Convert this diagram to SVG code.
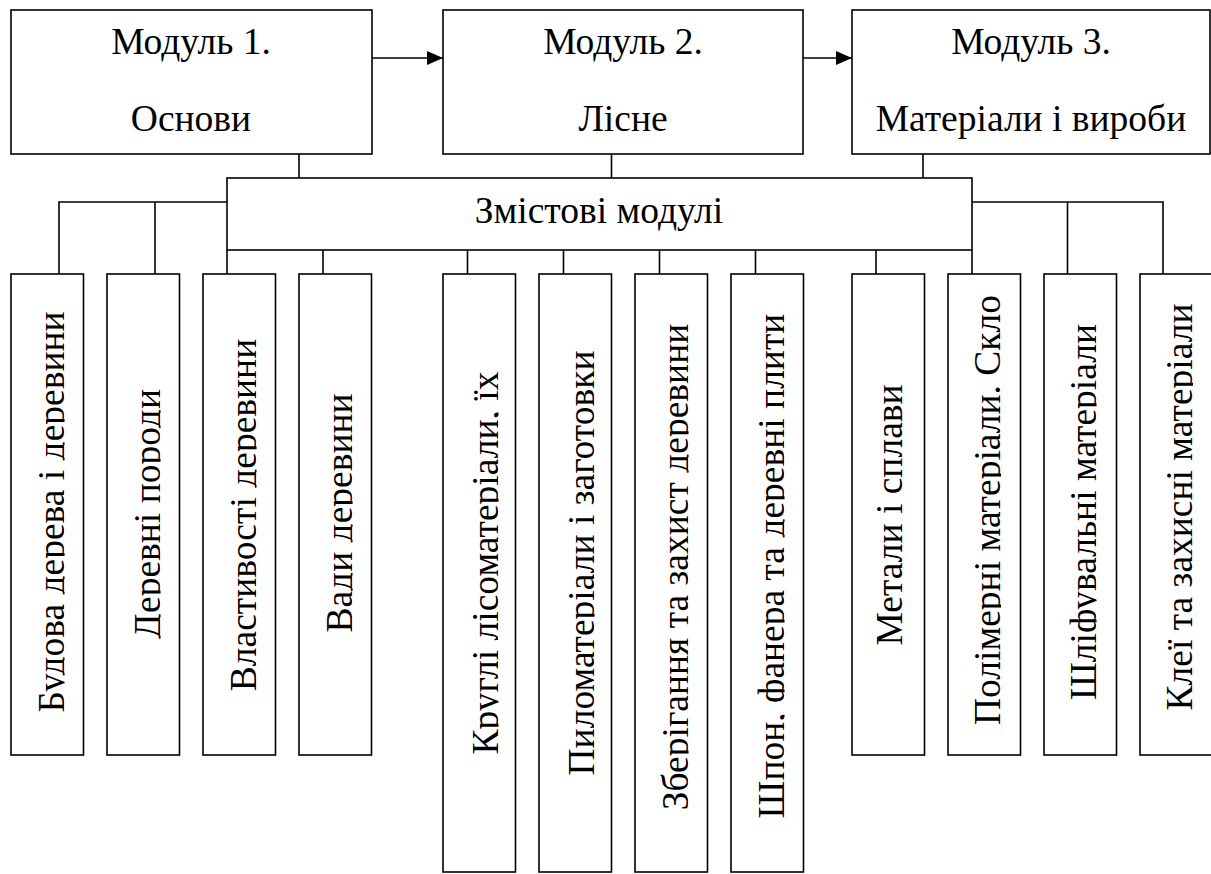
<svg xmlns="http://www.w3.org/2000/svg" width="1211" height="874" viewBox="0 0 1211 874">
  <style>
    .box { fill: #ffffff; stroke: #000000; stroke-width: 1.6; }
    .ln { fill: none; stroke: #000000; stroke-width: 1.6; }
    .t { font-family: "Liberation Serif", "Times New Roman", serif; font-size: 37.5px; fill: #000000; text-anchor: middle; }
    .v { font-family: "Liberation Serif", "Times New Roman", serif; font-size: 37.5px; fill: #000000; text-anchor: middle; }
  </style>
  <defs>
    <marker id="arr" markerUnits="userSpaceOnUse" viewBox="0 0 16 14" refX="16" refY="7" markerWidth="16" markerHeight="14" orient="auto">
      <path d="M0,0 L16,7 L0,14 z" fill="#000000"/>
    </marker>
    <clipPath id="desc" clipPathUnits="userSpaceOnUse">
      <rect x="-400" y="-45" width="800" height="46"/>
    </clipPath>
  </defs>

  <rect width="1211" height="874" fill="#ffffff"/>

  <g id="connectors">
    <line class="ln" x1="372" y1="58" x2="443" y2="58" marker-end="url(#arr)"/>
    <line class="ln" x1="803" y1="58" x2="852" y2="58" marker-end="url(#arr)"/>
    <line class="ln" x1="299" y1="154" x2="299" y2="178"/>
    <line class="ln" x1="611.5" y1="154" x2="611.5" y2="178"/>
    <line class="ln" x1="923" y1="154" x2="923" y2="178"/>
    <polyline class="ln" points="227,202 59,202 59,274"/>
    <line class="ln" x1="155" y1="202" x2="155" y2="274"/>
    <polyline class="ln" points="972,202 1163,202 1163,274"/>
    <line class="ln" x1="1067.5" y1="202" x2="1067.5" y2="274"/>
    <line class="ln" x1="227" y1="250" x2="227" y2="274"/>
    <line class="ln" x1="323" y1="250" x2="323" y2="274"/>
    <line class="ln" x1="467.5" y1="250" x2="467.5" y2="274"/>
    <line class="ln" x1="563.5" y1="250" x2="563.5" y2="274"/>
    <line class="ln" x1="659.5" y1="250" x2="659.5" y2="274"/>
    <line class="ln" x1="755.5" y1="250" x2="755.5" y2="274"/>
    <line class="ln" x1="876" y1="250" x2="876" y2="274"/>
    <line class="ln" x1="972" y1="250" x2="972" y2="274"/>
  </g>

  <g id="module1">
    <rect class="box" x="11" y="10" width="361" height="144"/>
    <text class="t" x="191" y="54">Модуль 1.</text>
    <text class="t" x="191" y="131">Основи</text>
  </g>
  <g id="module2">
    <rect class="box" x="443" y="10" width="360" height="144"/>
    <text class="t" x="623" y="54">Модуль 2.</text>
    <text class="t" x="623" y="131">Лісне</text>
  </g>
  <g id="module3">
    <rect class="box" x="852" y="10" width="358" height="144"/>
    <text class="t" x="1031" y="54">Модуль 3.</text>
    <text class="t" x="1031" y="131">Матеріали і вироби</text>
  </g>
  <g id="content-modules">
    <rect class="box" x="227" y="178" width="745" height="72"/>
    <text class="t" x="599" y="223">Змістові модулі</text>
  </g>

  <g id="m1-1">
    <rect class="box" x="11" y="274" width="72.5" height="481"/>
    <text class="v" transform="translate(63.5,512) rotate(-90)" clip-path="url(#desc)">Будова дерева і деревини</text>
  </g>
  <g id="m1-2">
    <rect class="box" x="107" y="274" width="72.5" height="481"/>
    <text class="v" transform="translate(159.5,514) rotate(-90)" clip-path="url(#desc)">Деревні породи</text>
  </g>
  <g id="m1-3">
    <rect class="box" x="203" y="274" width="72.5" height="481"/>
    <text class="v" transform="translate(255.5,515) rotate(-90)" clip-path="url(#desc)">Властивості деревини</text>
  </g>
  <g id="m1-4">
    <rect class="box" x="299" y="274" width="72.5" height="481"/>
    <text class="v" transform="translate(351.5,513) rotate(-90)" clip-path="url(#desc)">Вади деревини</text>
  </g>

  <g id="m2-1">
    <rect class="box" x="443" y="274" width="72.5" height="598"/>
    <text class="v" transform="translate(497.5,563) rotate(-90)" clip-path="url(#desc)">Круглі лісоматеріали, їх</text>
  </g>
  <g id="m2-2">
    <rect class="box" x="539" y="274" width="72.5" height="598"/>
    <text class="v" transform="translate(593.5,563) rotate(-90)" clip-path="url(#desc)">Пиломатеріали і заготовки</text>
  </g>
  <g id="m2-3">
    <rect class="box" x="635" y="274" width="72.5" height="598"/>
    <text class="v" transform="translate(687.5,567) rotate(-90)" clip-path="url(#desc)">Зберігання та захист деревини</text>
  </g>
  <g id="m2-4">
    <rect class="box" x="731" y="274" width="72.5" height="598"/>
    <text class="v" transform="translate(783.5,566) rotate(-90)" clip-path="url(#desc)">Шпон, фанера та деревні плити</text>
  </g>

  <g id="m3-1">
    <rect class="box" x="852" y="274" width="72.5" height="481"/>
    <text class="v" transform="translate(902,515) rotate(-90)" clip-path="url(#desc)">Метали і сплави</text>
  </g>
  <g id="m3-2">
    <rect class="box" x="948" y="274" width="72.5" height="481"/>
    <text class="v" transform="translate(1000,510) rotate(-90)" clip-path="url(#desc)">Полімерні матеріали. Скло</text>
  </g>
  <g id="m3-3">
    <rect class="box" x="1044" y="274" width="72.5" height="481"/>
    <text class="v" transform="translate(1095.5,512) rotate(-90)" clip-path="url(#desc)">Шліфувальні матеріали</text>
  </g>
  <g id="m3-4">
    <rect class="box" x="1140" y="274" width="72.5" height="481"/>
    <text class="v" transform="translate(1192,507) rotate(-90)" clip-path="url(#desc)">Клеї та захисні матеріали</text>
  </g>
</svg>
